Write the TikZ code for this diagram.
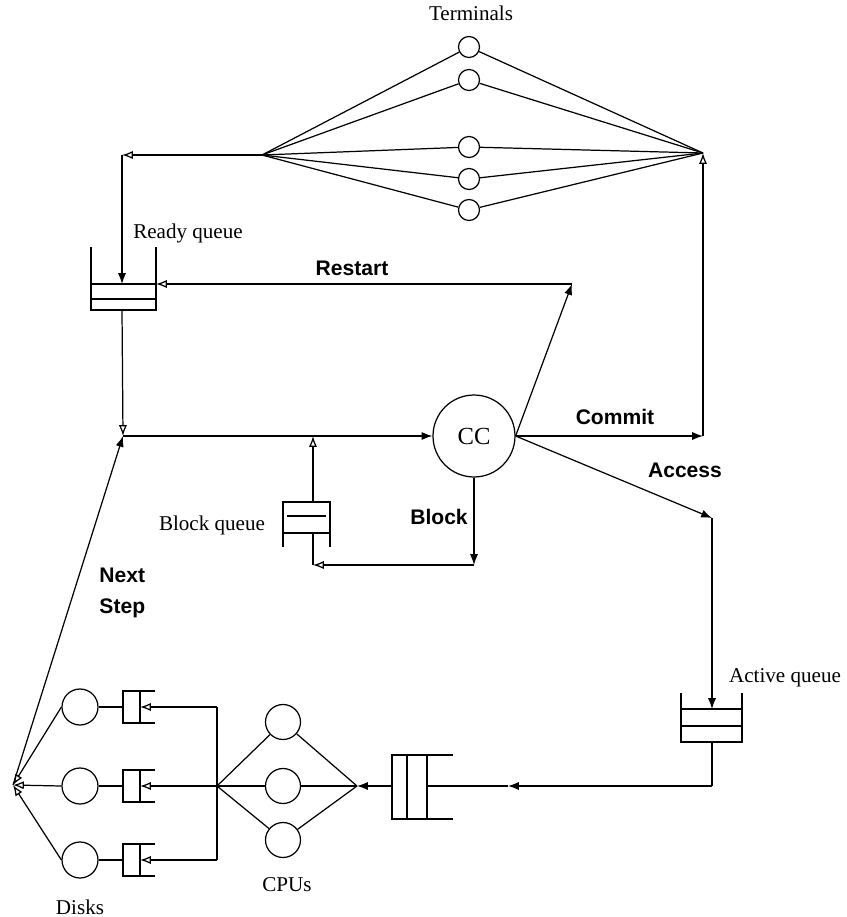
\documentclass[tikz,border=0pt]{standalone}
\usepackage{fontspec}
\setmainfont{Liberation Serif}
\setsansfont{Liberation Sans}
\usetikzlibrary{arrows.meta}

\tikzset{
  srv/.style={draw,circle,inner sep=0pt,minimum size=#1},
  lbl/.style={font=\fontsize{12}{14}\selectfont},
  flow/.style={font=\sffamily\bfseries\fontsize{12}{14}\selectfont},
  oarr/.style={-{Latex[open]}},
}

\begin{document}
\begin{tikzpicture}[x=0.02cm,y=-0.02cm,>=Latex,line width=0.7pt]
  \useasboundingbox (0,0) rectangle (846,917);
  % terminals
  \node[lbl] (termlbl) at (471,13) {Terminals};
  \foreach \i/\y in {1/47,2/80,3/147,4/179,5/210}
    \node[srv=0.42cm] (t\i) at (469,\y) {};
  \coordinate (tl) at (262,155);
  \coordinate (tr) at (703,153);
  \foreach \i in {1,...,5}
    \draw (tl) -- (t\i) -- (tr);
  % ready queue
  \draw (91,247) -- (91,310) -- (156,310) -- (156,247);
  \draw (91,284) -- (156,284) (91,299) -- (156,299);
  \node[lbl] (rqlbl) at (188,233) {Ready queue};
  \coordinate (tcorner) at (122,155);
  \coordinate (rqin) at (122,284);
  \coordinate (rqright) at (156,284);
  \coordinate (rqout) at (122,310);
  \draw[oarr] (tl) -- (tcorner);
  \draw[->] (tcorner) -- (rqin);
  % concurrency control
  \node[srv=1.64cm,font=\fontsize{14}{16}\selectfont] (cc) at (474,436) {CC};
  \coordinate (jn) at (123,436);
  \coordinate (bj) at (313,436);
  \draw[oarr] (rqout) -- (jn);
  \draw (jn) -- (bj);
  \draw[->] (bj) -- (cc);
  % restart
  \coordinate (rs) at (572,284);
  \draw[->] (cc.east) -- (rs);
  \draw[oarr] (rs) -- (rqright);
  \node[flow] (rslbl) at (352,268) {Restart};
  % commit
  \coordinate (cm) at (703,436);
  \draw[->] (cc.east) -- (cm);
  \draw[oarr] (cm) -- (tr);
  \node[flow] (cmlbl) at (615,417) {Commit};
  % access
  \coordinate (ac) at (712,518);
  \coordinate (aqin) at (712,709);
  \draw[->] (cc.east) -- (ac);
  \draw[->] (ac) -- (aqin);
  \node[flow] (aclbl) at (685,470) {Access};
  % block
  \draw (283,547) -- (283,502) -- (330,502) -- (330,547);
  \draw (283,533) -- (330,533);
  \draw (287,516) -- (326,516);
  \node[lbl] (bqlbl) at (212,525) {Block queue};
  \node[flow] (bllbl) at (439,517) {Block};
  \coordinate (bcorner) at (474,565);
  \coordinate (blcorner) at (313,565);
  \coordinate (blin) at (313,533);
  \coordinate (blout) at (313,502);
  \draw[->] (cc.south) -- (bcorner);
  \draw[oarr] (bcorner) -- (blcorner);
  \draw (blcorner) -- (blin);
  \draw[oarr] (blout) -- (bj);
  % active queue
  \draw (681,693) -- (681,742) -- (742,742) -- (742,693);
  \draw (681,709) -- (742,709) (681,726) -- (742,726);
  \node[lbl] (aqlbl) at (785,678) {Active queue};
  \coordinate (aqout) at (712,742);
  \coordinate (aqcorner) at (712,786);
  \coordinate (cqarr) at (508,786);
  \coordinate (cqin) at (427,786);
  \draw (aqout) -- (aqcorner);
  \draw[->] (aqcorner) -- (cqarr);
  \draw (cqarr) -- (cqin);
  % cpu queue
  \draw (453,755) -- (392,755) -- (392,819) -- (453,819);
  \draw (407,755) -- (407,819) (427,755) -- (427,819);
  \coordinate (cqout) at (392,786);
  \coordinate (fr) at (357,786);
  \coordinate (fl) at (217,786);
  \draw[->] (cqout) -- (fr);
  % cpus
  \foreach \i/\y in {1/722,2/786,3/840}
    \node[srv=0.7cm] (c\i) at (283,\y) {};
  \foreach \i in {1,2,3}
    \draw (fr) -- (c\i) -- (fl);
  \node[lbl] (cpulbl) at (287,885) {CPUs};
  % disks
  \coordinate (k) at (13,785);
  \foreach \i/\y in {1/707,2/786,3/860}{
    \draw (155,\y-16) -- (123,\y-16) -- (123,\y+16) -- (155,\y+16);
    \draw (140,\y-16) -- (140,\y+16);
    \node[srv=0.72cm] (d\i) at (80,\y) {};
    \coordinate (dq\i) at (123,\y);
    \coordinate (dqin\i) at (140,\y);
    \coordinate (bus\i) at (217,\y);
    \draw (d\i) -- (dq\i);
    \draw[oarr] (bus\i) -- (dqin\i);
    \draw[oarr] (d\i.west) -- (k);
  }
  \draw (bus1) -- (bus3);
  \node[lbl] (dlbl) at (80,907) {Disks};
  % next step
  \draw[->] (k) -- (jn);
  \node[flow,anchor=west,align=left] (nslbl) at (93,593) {Next\\[4pt]Step};
\end{tikzpicture}
\end{document}
